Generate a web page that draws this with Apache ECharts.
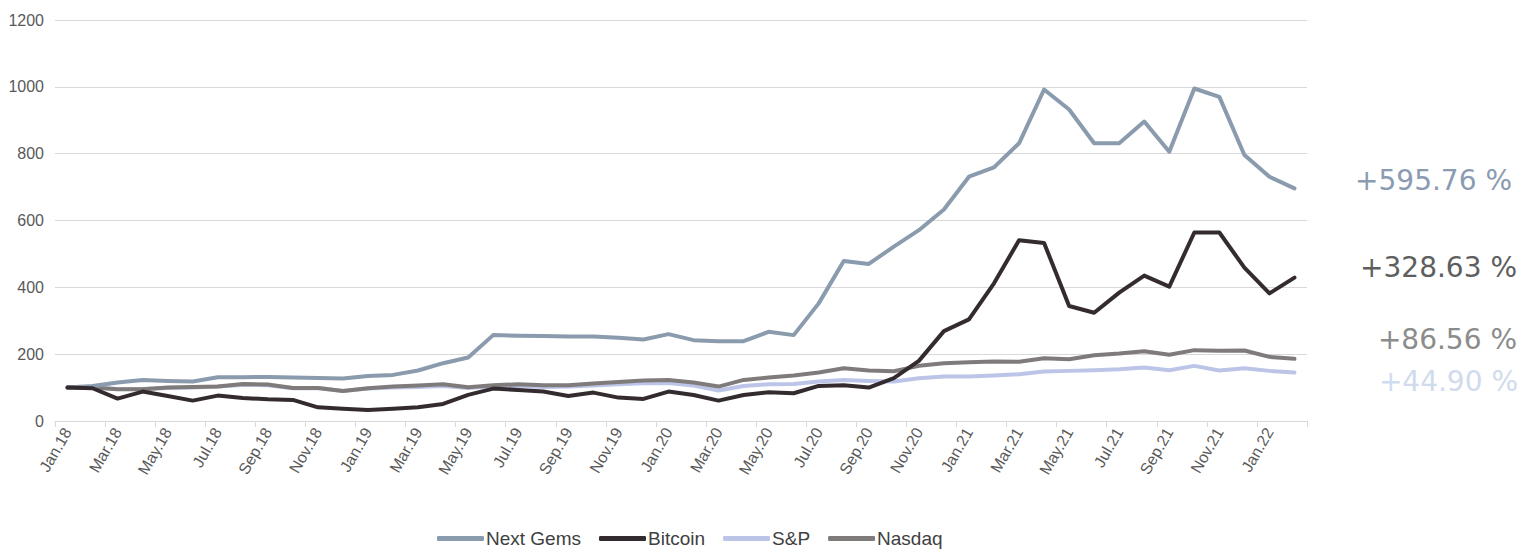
<!DOCTYPE html>
<html>
<head>
<meta charset="utf-8">
<script src="https://cdn.jsdelivr.net/npm/echarts@6/dist/echarts.min.js"></script>
<style>
html,body{margin:0;padding:0;background:#fff;}
#chart{width:1523px;height:549px;}
</style>
</head>
<body>
<div id="chart"></div>
<script>
const categories = [
  'Jan.18','Feb.18','Mar.18','Apr.18','May.18','Jun.18','Jul.18','Aug.18','Sep.18','Oct.18','Nov.18','Dec.18',
  'Jan.19','Feb.19','Mar.19','Apr.19','May.19','Jun.19','Jul.19','Aug.19','Sep.19','Oct.19','Nov.19','Dec.19',
  'Jan.20','Feb.20','Mar.20','Apr.20','May.20','Jun.20','Jul.20','Aug.20','Sep.20','Oct.20','Nov.20','Dec.20',
  'Jan.21','Feb.21','Mar.21','Apr.21','May.21','Jun.21','Jul.21','Aug.21','Sep.21','Oct.21','Nov.21','Dec.21',
  'Jan.22','Feb.22'
];
const nextGems = [
  100,105,115,123,120,118,131,131,132,130,129,127,
  135,138,151,173,190,257,255,254,253,253,249,244,
  260,242,239,239,267,257,352,479,470,522,571,633,
  731,759,831,992,932,831,831,896,806,995,970,796,
  731,696
];
const bitcoin = [
  100,98,67,88,75,61,76,69,65,63,41,37,
  33,37,41,51,78,97,93,88,75,85,70,66,
  88,78,61,78,86,83,105,107,100,128,180,269,
  304,412,541,533,344,324,384,435,402,564,564,459,
  382,429
];
const sp = [
  100,100,96,96,99,100,103,108,107,98,99,90,
  97,100,102,105,99,104,105,102,103,106,110,113,
  114,106,91,105,110,111,118,123,120,118,128,133,
  133,136,140,148,150,152,155,160,152,165,151,158,
  150,145
];
const nasdaq = [
  100,100,95,95,100,102,103,111,109,99,99,90,
  98,103,106,110,101,107,110,107,107,112,117,121,
  123,115,103,123,130,136,145,158,151,149,165,173,
  176,178,177,188,185,197,202,209,198,212,210,211,
  192,186
];
const seriesNames = ['Next Gems','Bitcoin','S&P','Nasdaq'];
const seriesColors = ['#8a9bae','#332b30','#bcc5e8','#807b7b'];
const endLabels = ['+595.76 %','+328.63 %','+86.56 %','+44.90 %'];
const yTicks = [0,200,400,600,800,1000,1200];

const chart = echarts.init(document.getElementById('chart'), null, {renderer:'svg'});
const dataSets = [nextGems, bitcoin, sp, nasdaq];
const zOrder = [4,5,2,3];
const option = {
  animation:false,
  backgroundColor:'#fff',
  grid:{left:55,right:216,top:20,bottom:128,containLabel:false},
  legend:{
    left:432, top:528, padding:[1,5,1,5],
    icon:'roundRect', itemWidth:47, itemHeight:5, itemGap:18,
    textStyle:{fontFamily:'Liberation Sans, Arial, sans-serif', fontSize:19, lineHeight:19, color:'#404040', padding:[0,0,0,-3]},
    data:seriesNames
  },
  xAxis:{
    type:'category', data:categories, boundaryGap:true,
    axisLine:{show:true, lineStyle:{color:'#d9d9d9', width:1}},
    axisTick:{show:true, length:6, lineStyle:{color:'#d9d9d9'}},
    axisLabel:{interval:1, rotate:60, margin:8, color:'#595959', fontSize:16, fontFamily:'Liberation Sans, Arial, sans-serif'},
    splitLine:{show:false}
  },
  yAxis:{
    type:'value', min:yTicks[0], max:yTicks[yTicks.length-1], interval:200,
    axisLine:{show:false}, axisTick:{show:false},
    axisLabel:{color:'#595959', fontSize:16, margin:11, fontFamily:'Liberation Sans, Arial, sans-serif',
      formatter:function(v){return String(v);}},
    splitLine:{lineStyle:{color:'#d9d9d9', width:1}}
  },
  series: seriesNames.map((n,i)=>({
    name:n, type:'line', data:dataSets[i], symbol:'none', smooth:false,
    lineStyle:{width:4, color:seriesColors[i], cap:'round', join:'round'},
    itemStyle:{color:seriesColors[i]},
    z: zOrder[i]
  })),
  graphic:[
    {type:'text', right:11, top:166, style:{text:endLabels[0], fill:'#8a9bb2', font:'28px "DejaVu Sans", sans-serif'}},
    {type:'text', right:6, top:253, style:{text:endLabels[1], fill:'#5e5e5e', font:'28px "DejaVu Sans", sans-serif'}},
    {type:'text', right:6, top:325, style:{text:endLabels[2], fill:'#8c8c8c', font:'28px "DejaVu Sans", sans-serif'}},
    {type:'text', right:5, top:367, style:{text:endLabels[3], fill:'#d0dbee', font:'28px "DejaVu Sans", sans-serif'}}
  ]
};
chart.setOption(option);
</script>
</body>
</html>
